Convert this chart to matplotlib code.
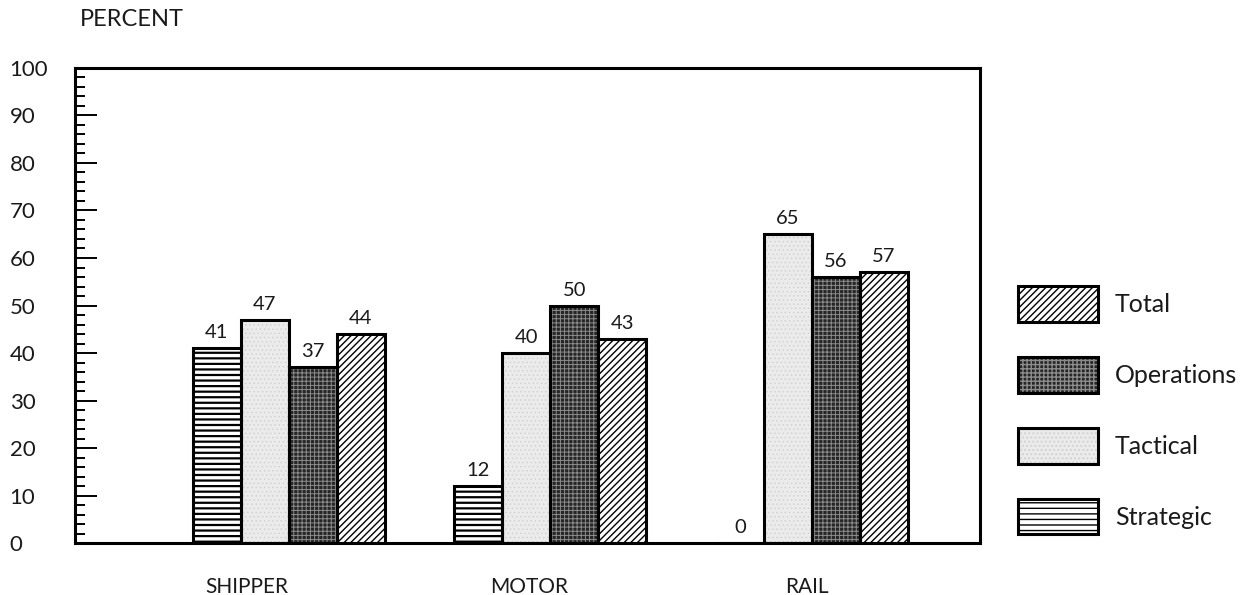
import numpy as np
import matplotlib.pyplot as plt
from matplotlib.patches import Patch
from matplotlib.legend_handler import HandlerTuple

plt.rcParams['font.family'] = ['Lato', 'DejaVu Sans']

groups = ['SHIPPER', 'MOTOR', 'RAIL']
series = ['Strategic', 'Tactical', 'Operations', 'Total']
strategic = [41, 12, 0]
tactical = [47, 40, 65]
operations = [37, 50, 56]
total = [44, 43, 57]
values = [strategic, tactical, operations, total]

# face colour, hatch, hatch colour, hatch line width
styles = {
    'Strategic': ('white', '---', 'black', 1.6),
    'Tactical': ('#ebebeb', '....', '#d2d2d2', 0.6),
    'Operations': ('#262626', '++++', '#8c8c8c', 0.7),
    'Total': ('white', '/////', 'black', 1.0),
}
txt = '#1a1a1a'

x = np.arange(len(groups))
w = 0.1835
offsets = [-1.5, -0.5, 0.5, 1.5]

fig = plt.figure(figsize=(12.48, 5.95), dpi=100)
ax = fig.add_axes([0.060, 0.087, 0.725, 0.799])

handles = {}
for name, vals, off in zip(series, values, offsets):
    fc, hatch, hc, hlw = styles[name]
    with plt.rc_context({'hatch.linewidth': hlw}):
        ax.bar(x + off * w, vals, w, facecolor=fc, edgecolor=hc, hatch=hatch,
               linewidth=0, zorder=2)
        h1 = Patch(facecolor=fc, edgecolor=hc, hatch=hatch, linewidth=0)
    bars = ax.bar(x + off * w, vals, w, fill=False, edgecolor='black',
                  linewidth=2.2, zorder=3)
    h2 = Patch(fill=False, edgecolor='black', linewidth=2.2)
    handles[name] = (h1, h2)
    for b, v in zip(bars, vals):
        ax.annotate(str(v), (b.get_x() + b.get_width() / 2, v),
                    xytext=(0, 5), textcoords='offset points',
                    ha='center', va='bottom', fontsize=14.5, color=txt)

ax.set_xlim(-0.818, 2.642)
ax.set_ylim(0, 100)
ax.set_yticks(range(0, 101, 10))
ax.set_yticks(range(0, 101, 2), minor=True)
ax.tick_params(axis='y', which='major', direction='in', length=16, width=1.4,
               pad=47, labelsize=16, labelcolor=txt)
ax.tick_params(axis='y', which='minor', direction='in', length=7, width=1.4)
for lab in ax.get_yticklabels():
    lab.set_horizontalalignment('left')

label_shift = [-0.16, -0.08, -0.02]
ax.set_xticks(x + np.array(label_shift))
ax.set_xticklabels(groups)
ax.tick_params(axis='x', length=0, pad=24, labelsize=15, labelcolor=txt)

for s in ax.spines.values():
    s.set_linewidth(2.2)

fig.text(0.064, 0.967, 'PERCENT', fontsize=17, color=txt, va='center')

order = ['Total', 'Operations', 'Tactical', 'Strategic']
ax.legend([handles[n] for n in order], order,
          handler_map={tuple: HandlerTuple(ndivide=1, pad=0)},
          loc='upper left', bbox_to_anchor=(1018 / 1248, 1 - 286 / 595),
          bbox_transform=fig.transFigure, frameon=False, fontsize=18,
          handlelength=3.2, handleheight=1.83, labelspacing=1.4,
          handletextpad=0.68, borderpad=0, borderaxespad=0,
          labelcolor=txt)

fig.savefig('out.png', dpi=100)
